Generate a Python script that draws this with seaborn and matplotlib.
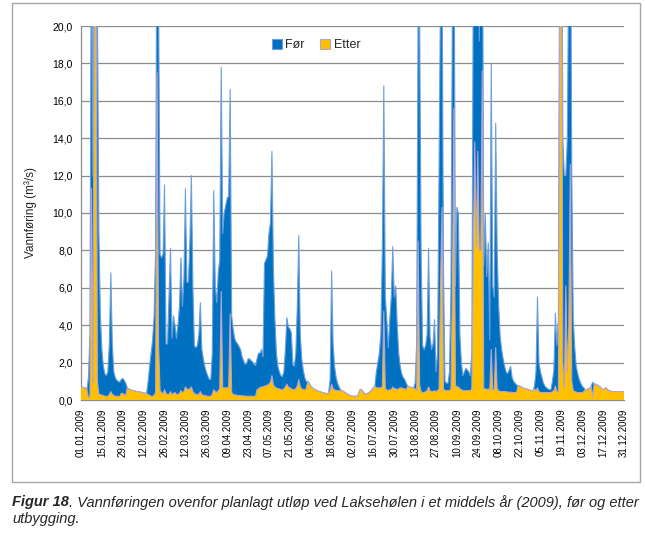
import numpy as np
import pandas as pd
import matplotlib
matplotlib.use("Agg")
import matplotlib.pyplot as plt
import seaborn as sns
from matplotlib.patches import Rectangle, Patch

# ---------------- data (daily flow 2009, m3/s) ----------------
for_jan = [0.70, 0.68, 0.66, 0.64, 0.55, 1.2, 3.5, 28, 12, 35, 36, 21, 9.0, 4.5, 2.7, 1.8, 1.4, 1.3, 1.5, 3.0,
           6.8, 3.0, 1.5, 1.2, 1.05, 1.0, 0.95, 1.1, 1.15, 1.05, 0.9]
for_feb = [0.65, 0.6, 0.55, 0.52, 0.5, 0.48, 0.46, 0.45, 0.43, 0.42, 0.4, 0.38, 0.36, 0.35,
           1.0, 1.8, 2.5, 3.2, 4.5, 8.0, 30, 22, 7.8, 7.6, 7.8, 11.5, 3.0, 3.0]
for_mar = [5.5, 8.1, 3.3, 4.5, 4.0, 3.3, 4.0, 5.0, 7.6, 5.0, 6.5, 11.3, 6.3, 6.3, 8.5, 12.0, 6.1, 2.9, 2.8, 2.9,
           3.5, 5.2, 2.7, 2.2, 1.8, 1.5, 1.3, 1.1, 1.1, 2.5, 11.2]
for_apr = [6.1, 5.2, 6.8, 7.5, 17.8, 8.9, 10.0, 10.4, 10.8, 10.9, 16.6, 4.5, 3.8, 3.3, 3.1, 3.0, 2.85, 2.7, 2.3, 2.1,
           1.9, 1.95, 2.2, 2.2, 2.1, 2.05, 1.9, 1.85, 2.2, 2.5]
for_may = [2.5, 2.7, 2.3, 7.3, 7.5, 7.7, 8.9, 9.5, 13.3, 7.0, 4.3, 2.5, 1.8, 1.5, 1.3, 1.25, 1.5, 2.7, 4.4, 3.9,
           3.8, 3.6, 1.9, 1.8, 2.5, 5.0, 8.8, 3.5, 2.2, 1.6, 1.2]
for_jun = [1.0, 1.0, 0.9, 0.75, 0.65, 0.6, 0.55, 0.5, 0.48, 0.45, 0.42, 0.4, 0.38, 0.35, 0.3, 0.4, 1.1, 6.9, 3.0, 1.8,
           1.2, 0.9, 0.7, 0.55, 0.5, 0.45, 0.4, 0.35, 0.3, 0.25]
for_jul = [0.22, 0.2, 0.2, 0.2, 0.2, 0.3, 0.55, 0.55, 0.45, 0.35, 0.3, 0.35, 0.4, 0.45, 0.55, 0.65, 0.75, 1.5, 2.0, 2.5,
           3.5, 8.0, 16.8, 5.5, 4.3, 2.8, 4.3, 5.5, 8.2, 5.5, 6.1]
for_aug = [4.0, 2.5, 1.8, 1.4, 1.2, 1.1, 0.9, 0.75, 0.7, 0.68, 0.65, 0.65, 0.9, 3.0, 21, 20.5, 7.9, 2.9, 2.7, 2.9,
           3.5, 8.1, 3.4, 2.7, 3.0, 4.3, 1.5, 2.5, 12, 22, 24]
for_sep = [7.0, 1.0, 0.9, 0.9, 1.5, 6.0, 22, 28, 6.1, 10.3, 10.0, 3.5, 2.0, 1.3, 1.5, 1.7, 1.6, 1.5, 1.3, 2.5,
           24, 27, 26, 25, 19.2, 25, 30, 7.2, 10.0, 6.6]
for_oct = [8.4, 3.2, 18.0, 6.1, 5.5, 14.8, 7.9, 5.0, 3.4, 2.7, 2.2, 1.8, 1.5, 1.4, 1.6, 1.8, 1.2, 1.0, 0.9, 0.8,
           0.78, 0.75, 0.7, 0.65, 0.62, 0.6, 0.58, 0.55, 0.52, 0.5, 0.5]
for_nov = [0.75, 1.5, 5.5, 2.0, 1.5, 1.2, 0.9, 0.75, 0.65, 0.6, 0.55, 0.55, 1.0, 1.6, 4.65, 2.9, 4.3, 28, 33, 14,
           12, 12, 14, 24, 30, 12, 4.3, 2.8, 1.8, 1.4]
for_dec = [1.1, 0.9, 0.75, 0.65, 0.55, 0.55, 0.6, 0.6, 0.75, 0.95, 0.85, 0.85, 0.8, 0.75, 0.7, 0.6, 0.55, 0.6, 0.65, 0.55,
           0.5, 0.48, 0.45, 0.45, 0.45, 0.45, 0.45, 0.45, 0.45, 0.45, 0.45]

etter_jan = [0.70, 0.68, 0.66, 0.64, 0.55, 0.12, 0.2, 11.3, 0.9, 24, 26, 1.0, 0.3, 0.3, 0.25, 0.25, 0.2, 0.2, 0.2, 0.3,
             0.45, 0.3, 0.25, 0.2, 0.2, 0.2, 0.2, 0.35, 0.35, 0.3, 0.25]
etter_feb = [0.65, 0.6, 0.55, 0.52, 0.5, 0.48, 0.46, 0.45, 0.43, 0.42, 0.4, 0.38, 0.36, 0.35,
             0.3, 0.25, 0.2, 0.2, 0.25, 0.4, 17.5, 3.0, 0.5, 0.4, 0.35, 0.55, 0.35, 0.3]
etter_mar = [0.3, 0.45, 0.3, 0.35, 0.4, 0.3, 0.3, 0.35, 0.5, 0.4, 0.45, 0.7, 0.6, 0.55, 0.6, 0.7, 0.45, 0.35, 0.3, 0.3,
             0.3, 0.45, 0.3, 0.25, 0.25, 0.22, 0.2, 0.2, 0.2, 0.3, 0.55]
etter_apr = [0.45, 0.4, 0.5, 0.6, 5.8, 0.65, 0.65, 0.65, 0.65, 0.7, 4.6, 0.4, 0.3, 0.28, 0.26, 0.25, 0.24, 0.23, 0.22, 0.22,
             0.21, 0.2, 0.2, 0.2, 0.2, 0.2, 0.2, 0.2, 0.55, 0.6]
etter_may = [0.65, 0.7, 0.7, 0.75, 0.75, 0.8, 0.85, 0.95, 1.3, 0.8, 0.7, 0.65, 0.6, 0.6, 0.55, 0.55, 0.6, 0.7, 0.85, 0.7,
             0.65, 0.6, 0.55, 0.55, 0.6, 0.75, 1.1, 0.7, 0.6, 0.55, 0.55]
etter_jun = [0.6, 1.0, 0.9, 0.75, 0.65, 0.6, 0.55, 0.5, 0.48, 0.45, 0.42, 0.4, 0.38, 0.35, 0.3, 0.4, 0.5, 0.85, 0.6, 0.55,
             0.5, 0.5, 0.5, 0.5, 0.5, 0.45, 0.4, 0.35, 0.3, 0.25]
etter_jul = [0.22, 0.2, 0.2, 0.2, 0.2, 0.3, 0.55, 0.55, 0.45, 0.35, 0.3, 0.35, 0.4, 0.45, 0.55, 0.65, 0.75, 0.65, 0.65, 0.65,
             0.65, 0.7, 4.75, 0.6, 0.55, 0.5, 0.55, 0.55, 0.7, 0.6, 0.6]
etter_aug = [0.55, 0.6, 0.65, 0.65, 0.6, 0.6, 0.55, 0.75, 0.7, 0.68, 0.65, 0.65, 0.6, 0.5, 8.5, 0.8, 0.45, 0.4, 0.4, 0.45,
             0.5, 0.7, 0.5, 0.45, 0.45, 0.5, 0.45, 0.5, 0.6, 6.0, 10.3]
etter_sep = [0.6, 0.5, 0.5, 0.5, 0.5, 0.6, 6.0, 15.6, 0.8, 0.7, 0.7, 0.6, 0.55, 0.5, 0.5, 0.5, 0.5, 0.5, 0.5, 0.6,
             8.2, 13.8, 8.2, 13.3, 8.0, 8.0, 17.6, 0.6, 0.6, 0.55]
etter_oct = [0.6, 0.5, 2.7, 0.55, 0.55, 2.8, 0.6, 0.5, 0.45, 0.45, 0.45, 0.45, 0.45, 0.42, 0.42, 0.42, 0.4, 0.4, 0.4, 0.4,
             0.78, 0.75, 0.7, 0.65, 0.62, 0.6, 0.58, 0.55, 0.52, 0.5, 0.5]
etter_nov = [0.6, 0.5, 0.65, 0.45, 0.4, 0.4, 0.4, 0.4, 0.4, 0.4, 0.4, 0.4, 0.45, 0.5, 0.75, 0.45, 0.45, 22, 30, 2.0,
             0.6, 6.1, 1.5, 4.0, 12.6, 1.0, 0.5, 0.45, 0.42, 0.4]
etter_dec = [0.4, 0.4, 0.4, 0.45, 0.55, 0.55, 0.6, 0.6, 0.75, 0.15, 0.85, 0.85, 0.8, 0.75, 0.7, 0.6, 0.55, 0.6, 0.65, 0.55,
             0.5, 0.48, 0.45, 0.45, 0.45, 0.45, 0.45, 0.45, 0.45, 0.45, 0.45]

tick_labels = ["01.01.2009", "15.01.2009", "29.01.2009", "12.02.2009", "26.02.2009", "12.03.2009",
               "26.03.2009", "09.04.2009", "23.04.2009", "07.05.2009", "21.05.2009", "04.06.2009",
               "18.06.2009", "02.07.2009", "16.07.2009", "30.07.2009", "13.08.2009", "27.08.2009",
               "10.09.2009", "24.09.2009", "08.10.2009", "22.10.2009", "05.11.2009", "19.11.2009",
               "03.12.2009", "17.12.2009", "31.12.2009"]
y_ticks = [0, 2, 4, 6, 8, 10, 12, 14, 16, 18, 20]
series_names = ["Før", "Etter"]

# ---------------- build table ----------------
for_all = (for_jan + for_feb + for_mar + for_apr + for_may + for_jun +
           for_jul + for_aug + for_sep + for_oct + for_nov + for_dec)
etter_all = (etter_jan + etter_feb + etter_mar + etter_apr + etter_may + etter_jun +
             etter_jul + etter_aug + etter_sep + etter_oct + etter_nov + etter_dec)
df = pd.DataFrame({"day": np.arange(len(for_all)), "For": for_all, "Etter": etter_all})

BLUE = "#0070c0"
BLUE_EDGE = "#6a9fdc"
YELLOW = "#ffc000"
YELLOW_EDGE = "#b3a5d4"
GRID = "#8c8c8c"

sns.set_theme(style="white")
plt.rcParams["font.family"] = ["Liberation Sans", "DejaVu Sans"]

W, H = 645, 542
fig = plt.figure(figsize=(W / 100, H / 100), dpi=100)
fig.patch.set_facecolor("white")

# outer chart frame
fig.patches.append(Rectangle((12 / W, 1 - 482 / H), (640 - 12) / W, (482 - 3) / H,
                             transform=fig.transFigure, fill=False, edgecolor="#a6a6a6", lw=1.0))

ax = fig.add_axes([81 / W, 1 - 400 / H, (624 - 81) / W, (400 - 26) / H])
ax.set_facecolor("white")

ax.fill_between(df["day"], df["For"], color=BLUE, lw=0, zorder=2)
sns.lineplot(data=df, x="day", y="For", color=BLUE_EDGE, lw=0.8, ax=ax, zorder=3)
ax.fill_between(df["day"], df["Etter"], color=YELLOW, lw=0, zorder=4)
sns.lineplot(data=df, x="day", y="Etter", color=YELLOW_EDGE, lw=0.8, ax=ax, zorder=5)

ax.set_xlim(0, len(for_all) - 1)
ax.set_ylim(0, 20)
ax.set_xlabel("")
ax.set_ylabel("")

ax.set_yticks(y_ticks)
ax.set_yticklabels([f"{v:.1f}".replace(".", ",") for v in y_ticks], fontsize=7.5)
ax.set_xticks(np.arange(0, len(for_all), 14))
ax.set_xticklabels(tick_labels, rotation=90, fontsize=7)

ax.yaxis.grid(True, color=GRID, lw=0.9)
ax.xaxis.grid(False)
ax.set_axisbelow(True)
for s in ["top", "right"]:
    ax.spines[s].set_visible(False)
for s in ["left", "bottom"]:
    ax.spines[s].set_color(GRID)
    ax.spines[s].set_linewidth(0.9)
ax.tick_params(axis="x", direction="out", length=4, width=0.8, color=GRID, pad=2, labelcolor="black")
ax.tick_params(axis="y", direction="out", length=4, width=0.8, color=GRID, pad=2, labelcolor="black")

fig.text(31 / W, 1 - 212 / H, "Vannføring (m³/s)", rotation=90, ha="center", va="center", fontsize=8.5)

handles = [Patch(facecolor=BLUE, edgecolor=BLUE_EDGE, lw=0.8),
           Patch(facecolor=YELLOW, edgecolor=YELLOW_EDGE, lw=0.8)]
fig.legend(handles, series_names, loc="center", bbox_to_anchor=(316 / W, 1 - 45 / H), ncol=2,
           frameon=False, fontsize=9, handlelength=0.8, handleheight=0.8, handletextpad=0.3,
           columnspacing=1.2, borderpad=0)

# caption
CAP_FS = 10.5
t1 = fig.text(12 / W, 1 - 495 / H, "Figur 18", fontsize=CAP_FS, fontweight="bold", fontstyle="italic",
              ha="left", va="top")
fig.canvas.draw()
bb = t1.get_window_extent(renderer=fig.canvas.get_renderer())
fig.text(bb.x1 / W, 1 - 495 / H,
         ". Vannføringen ovenfor planlagt utløp ved Laksehølen i et middels år (2009), før og etter",
         fontsize=CAP_FS, fontstyle="italic", ha="left", va="top")
fig.text(12 / W, 1 - 512 / H, "utbygging.", fontsize=CAP_FS, fontstyle="italic", ha="left", va="top")

fig.savefig("out.png", dpi=100)
